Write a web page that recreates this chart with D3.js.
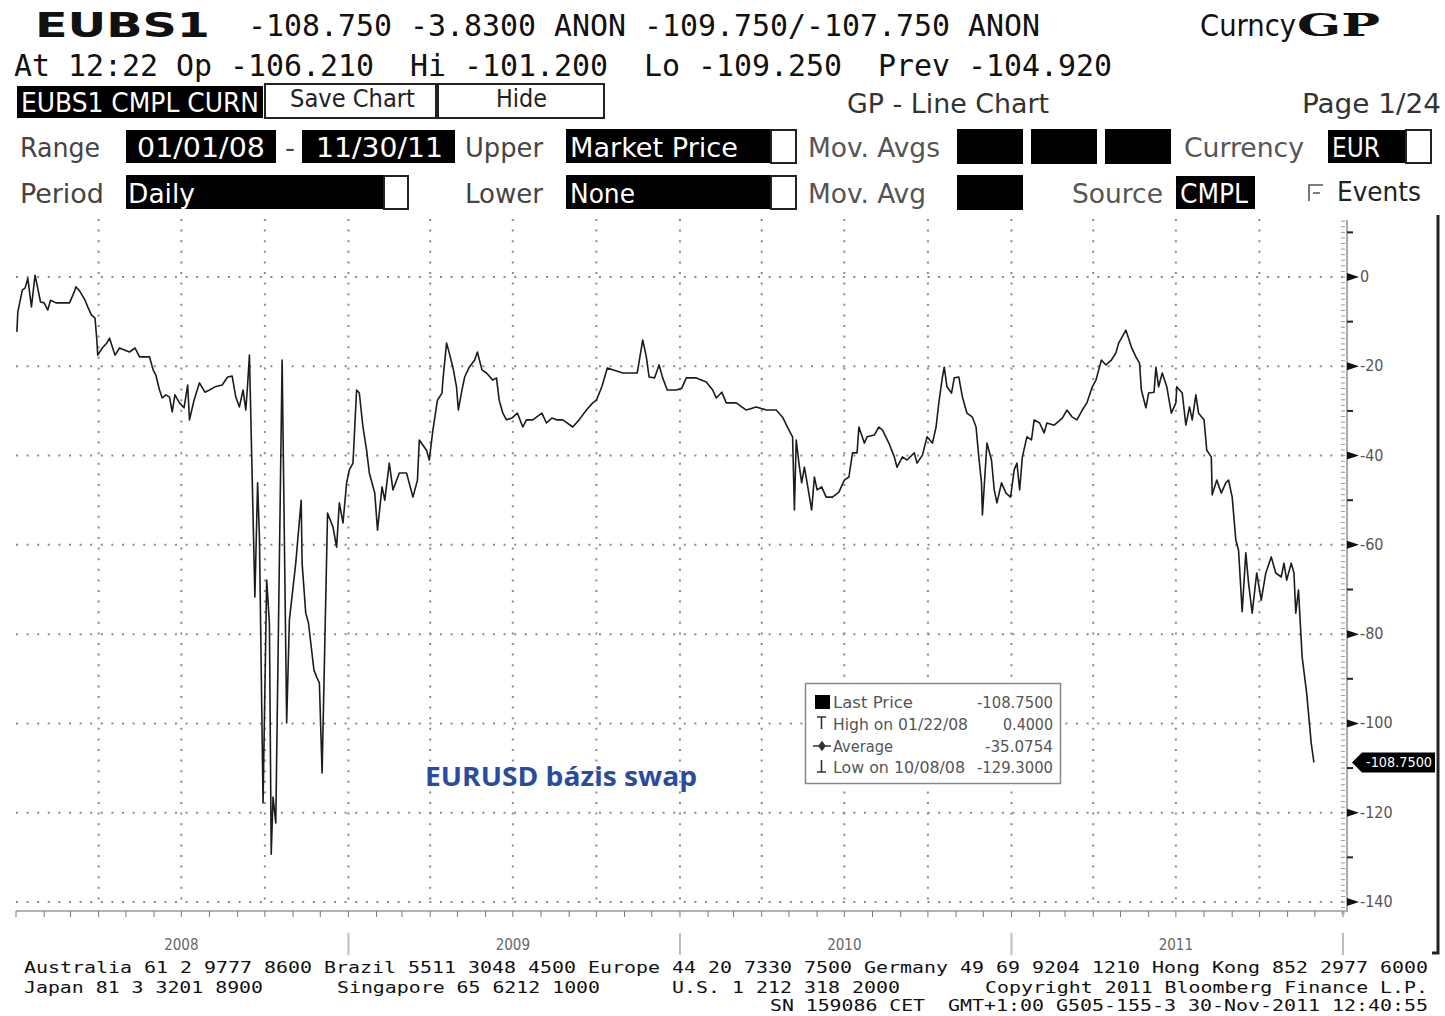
<!DOCTYPE html>
<html><head><meta charset="utf-8">
<script src="https://cdn.jsdelivr.net/npm/d3@7/dist/d3.min.js"></script>
<style>
html,body{margin:0;padding:0;background:#fff;}
svg{display:block;}
text{white-space:pre;}
</style></head><body>
<svg id="chart" width="1445" height="1016"></svg>
<script>
// EUBS1 – EURUSD Basis-Swap, Tageswerte 01/2008–11/2011
const dates = [
  "2008-01-02","2008-01-03","2008-01-08","2008-01-11","2008-01-14","2008-01-18","2008-01-22","2008-01-28","2008-02-01","2008-02-05",
  "2008-02-08","2008-02-14","2008-02-25","2008-02-29","2008-03-05","2008-03-07","2008-03-11","2008-03-17","2008-03-20","2008-03-24",
  "2008-03-28","2008-03-30","2008-03-31","2008-04-05","2008-04-10","2008-04-13","2008-04-19","2008-04-24","2008-04-30","2008-05-05",
  "2008-05-11","2008-05-16","2008-05-27","2008-05-31","2008-06-03","2008-06-07","2008-06-10","2008-06-14","2008-06-18","2008-06-21",
  "2008-06-24","2008-06-29","2008-07-04","2008-07-08","2008-07-10","2008-07-15","2008-07-21","2008-07-27","2008-08-01","2008-08-07",
  "2008-08-15","2008-08-21","2008-08-26","2008-08-30","2008-09-03","2008-09-07","2008-09-10","2008-09-12","2008-09-14","2008-09-20",
  "2008-09-23","2008-09-25","2008-09-29","2008-10-03","2008-10-06","2008-10-08","2008-10-10","2008-10-13","2008-10-20","2008-10-25",
  "2008-10-28","2008-11-04","2008-11-10","2008-11-11","2008-11-15","2008-11-18","2008-11-24","2008-11-27","2008-11-30","2008-12-03",
  "2008-12-09","2008-12-15","2008-12-19","2008-12-22","2008-12-26","2008-12-30",
  "2009-01-02","2009-01-06","2009-01-10","2009-01-13","2009-01-17","2009-01-21","2009-01-24","2009-01-30","2009-02-02","2009-02-07",
  "2009-02-10","2009-02-15","2009-02-19","2009-02-26","2009-03-06","2009-03-13","2009-03-18","2009-03-20","2009-03-28","2009-03-31",
  "2009-04-04","2009-04-09","2009-04-14","2009-04-15","2009-04-19","2009-04-22","2009-04-26","2009-04-30","2009-05-02","2009-05-06",
  "2009-05-09","2009-05-14","2009-05-20","2009-05-23","2009-05-28","2009-06-02","2009-06-09","2009-06-13","2009-06-16","2009-06-20",
  "2009-06-24","2009-06-30","2009-07-06","2009-07-12","2009-07-16","2009-07-23","2009-08-02","2009-08-07","2009-08-13","2009-08-18",
  "2009-08-25","2009-09-05","2009-09-12","2009-09-20","2009-09-27","2009-10-01","2009-10-07","2009-10-13","2009-10-19","2009-10-30",
  "2009-11-06","2009-11-15","2009-11-21","2009-11-25","2009-11-28","2009-12-04","2009-12-09","2009-12-13","2009-12-18","2009-12-28",
  "2010-01-03","2010-01-08","2010-01-19","2010-01-30","2010-02-06","2010-02-10","2010-02-16","2010-02-21","2010-03-04","2010-03-15",
  "2010-03-26","2010-04-06","2010-04-17","2010-04-24","2010-05-01","2010-05-05","2010-05-07","2010-05-09","2010-05-12","2010-05-15",
  "2010-05-18","2010-05-21","2010-05-26","2010-05-29","2010-06-01","2010-06-06","2010-06-11","2010-06-18","2010-06-25","2010-07-01",
  "2010-07-06","2010-07-10","2010-07-15","2010-07-17","2010-07-23","2010-07-26","2010-08-03","2010-08-08","2010-08-12","2010-08-19",
  "2010-08-25","2010-08-28","2010-09-03","2010-09-08","2010-09-16","2010-09-19","2010-09-25","2010-09-30","2010-10-06","2010-10-10",
  "2010-10-13","2010-10-17","2010-10-19","2010-10-22","2010-10-27","2010-10-30","2010-11-04","2010-11-08","2010-11-13","2010-11-19",
  "2010-11-23","2010-11-26","2010-11-29","2010-11-30","2010-12-05","2010-12-10","2010-12-13","2010-12-16","2010-12-21","2010-12-26",
  "2010-12-31",
  "2011-01-04","2011-01-07","2011-01-10","2011-01-13","2011-01-18","2011-01-23","2011-01-26","2011-02-01","2011-02-06","2011-02-09",
  "2011-02-17","2011-02-26","2011-03-03","2011-03-09","2011-03-14","2011-03-20","2011-03-25","2011-03-31","2011-04-04","2011-04-10",
  "2011-04-15","2011-04-21","2011-04-26","2011-04-29","2011-05-07","2011-05-13","2011-05-18","2011-05-22","2011-05-24","2011-05-29",
  "2011-06-01","2011-06-07","2011-06-09","2011-06-12","2011-06-16","2011-06-21","2011-06-26","2011-07-01","2011-07-02","2011-07-08",
  "2011-07-12","2011-07-16","2011-07-19","2011-07-23","2011-07-26","2011-08-01","2011-08-04","2011-08-09","2011-08-10","2011-08-15",
  "2011-08-20","2011-08-25","2011-08-28","2011-09-01","2011-09-05","2011-09-08","2011-09-12","2011-09-16","2011-09-19","2011-09-23",
  "2011-09-28","2011-10-03","2011-10-08","2011-10-14","2011-10-19","2011-10-25","2011-10-28","2011-10-31","2011-11-05","2011-11-08",
  "2011-11-10","2011-11-13","2011-11-17","2011-11-22","2011-11-27","2011-11-30"
];
const values = [
  -12.3,-7.8,-2.9,-2.5,-0.3,-6.7,0.4,-5.6,-5.8,-7.4,
  -5.2,-5.8,-5.8,-5.8,-3.4,-2.2,-3.1,-5.2,-6.7,-8.5,
  -9.2,-14.1,-17.5,-15.9,-14.8,-13.7,-17.5,-15.9,-16.4,-16.8,
  -15.9,-17.9,-17.9,-20.8,-22.0,-25.3,-27.1,-26.4,-26.9,-30.2,
  -26.4,-28.2,-29.3,-24.2,-32.0,-27.6,-23.7,-25.8,-25.3,-24.6,
  -24.2,-22.4,-22.2,-26.9,-29.1,-25.3,-29.8,-24.2,-17.5,-71.7,
  -46.1,-58.2,-117.8,-67.9,-77.5,-129.3,-116.5,-122.3,-18.6,-99.9,
  -76.8,-64.1,-50.0,-64.1,-75.3,-77.5,-88.0,-89.6,-90.9,-111.1,
  -52.9,-56.0,-60.5,-50.6,-55.1,-46.1,
  -43.2,-41.7,-25.3,-26.0,-33.6,-38.8,-43.9,-48.4,-56.7,-47.0,
  -50.0,-41.7,-47.7,-43.9,-43.9,-49.3,-45.5,-36.5,-38.8,-41.0,
  -34.3,-27.6,-26.0,-23.1,-14.8,-17.0,-20.2,-24.6,-29.8,-25.3,
  -22.4,-20.2,-18.6,-16.8,-20.8,-21.5,-23.1,-22.6,-27.6,-30.5,
  -32.0,-31.6,-30.5,-33.6,-32.0,-32.0,-30.5,-32.7,-31.6,-32.0,
  -32.0,-33.6,-32.0,-29.8,-28.2,-27.6,-24.6,-20.4,-20.8,-21.5,
  -21.5,-21.5,-14.1,-17.9,-22.4,-22.6,-19.7,-22.6,-25.3,-25.3,
  -24.9,-22.6,-22.6,-23.5,-25.3,-27.1,-25.8,-28.2,-28.2,-29.8,
  -29.1,-29.8,-29.8,-31.4,-34.3,-35.8,-52.2,-36.5,-41.7,-46.1,
  -42.6,-46.1,-52.2,-44.8,-47.7,-47.0,-49.3,-49.3,-48.2,-45.5,
  -44.8,-39.4,-39.4,-33.6,-37.2,-35.8,-35.4,-33.6,-34.3,-37.2,
  -40.3,-42.6,-40.3,-41.0,-39.4,-41.7,-39.9,-35.8,-37.2,-33.6,
  -28.2,-22.4,-20.2,-24.6,-26.0,-22.6,-22.4,-26.9,-30.5,-31.4,
  -33.6,-40.3,-46.1,-53.3,-37.2,-41.0,-47.7,-50.6,-46.1,-48.4,
  -49.3,
  -43.2,-41.7,-47.7,-40.3,-35.8,-36.5,-32.0,-32.7,-34.9,-32.7,
  -33.2,-31.6,-29.8,-31.4,-32.0,-29.8,-28.2,-24.6,-23.1,-18.6,
  -19.7,-18.6,-17.0,-14.8,-11.9,-15.7,-17.9,-19.3,-25.3,-29.3,
  -26.0,-25.8,-20.2,-24.6,-21.5,-24.6,-30.5,-28.2,-24.6,-26.0,
  -33.2,-29.1,-32.0,-26.4,-30.5,-32.0,-38.8,-40.3,-48.8,-45.5,
  -48.4,-46.1,-45.5,-49.3,-58.9,-61.2,-75.0,-61.8,-68.5,-75.3,
  -66.3,-72.4,-66.3,-62.7,-66.3,-67.2,-64.1,-67.9,-64.1,-66.3,
  -75.3,-70.1,-85.1,-93.2,-104.4,-108.75
];
const yTicks = [0,-20,-40,-60,-80,-100,-120,-140];
const years = [2008,2009,2010,2011];
const legendLabels = ["Last Price","High on 01/22/08","Average","Low on 10/08/08"];
const legendValues = ["-108.7500","0.4000","-35.0754","-129.3000"];
const lastPrice = -108.75;

const UI = "'DejaVu Sans Condensed','DejaVu Sans',sans-serif";
const MONO = "'DejaVu Sans Mono','Liberation Mono',monospace";

const svg = d3.select("#chart");
svg.append("rect").attr("width",1445).attr("height",1016).attr("fill","#fff");

function label(g, x, y, s, o={}){
  const t = g.append("text").attr("x",x).attr("y",y).text(s)
    .attr("font-family", o.ff||UI).attr("font-size", o.fs||26).attr("fill", o.fill||"#333");
  if(o.w) t.attr("textLength",o.w).attr("lengthAdjust","spacingAndGlyphs");
  if(o.anchor) t.attr("text-anchor",o.anchor);
  if(o.bold) t.attr("font-weight","bold");
  return t;
}
function box(g, x, y, w, h, fill, stroke){
  return g.append("rect").attr("x",x).attr("y",y).attr("width",w).attr("height",h)
    .attr("fill",fill).attr("stroke",stroke||"none").attr("stroke-width",stroke?2:0);
}

// Kopfzeilen
const hd = svg.append("g");
label(hd,35,37,"EUBS1",{ff:"'DejaVu Sans',sans-serif",fs:34,bold:true,fill:"#111",w:175});
label(hd,248,36,"-108.750 -3.8300 ANON -109.750/-107.750 ANON",{ff:MONO,fs:30,fill:"#111",w:792});
label(hd,1200,36,"Curncy",{fs:30,fill:"#111",w:96});
label(hd,1297,36,"GP",{ff:"'DejaVu Serif',serif",fs:31,bold:true,fill:"#111",w:83});
label(hd,14,76,"At 12:22 Op -106.210  Hi -101.200  Lo -109.250  Prev -104.920",{ff:MONO,fs:30,fill:"#111",w:1098});

box(hd,17,86,246,32,"#000");
label(hd,21,112,"EUBS1 CMPL CURN",{fs:26,fill:"#fff",w:238});
box(hd,265,84,171,34,"#fff","#222");
label(hd,290,107,"Save Chart",{fs:25,fill:"#222",w:125});
box(hd,438,84,166,34,"#fff","#222");
label(hd,496,107,"Hide",{fs:25,fill:"#222",w:51});
label(hd,847,113,"GP - Line Chart",{fs:26,fill:"#333",w:202});
label(hd,1302,113,"Page 1/24",{fs:26,fill:"#333",w:139});

// Zeile Range
label(hd,20,157,"Range",{fs:27,fill:"#444",w:80});
box(hd,126,130,150,33,"#000"); label(hd,137,157,"01/01/08",{fs:27,fill:"#fff",w:128});
label(hd,285,157,"-",{fs:27,fill:"#444",w:10});
box(hd,302,130,153,33,"#000"); label(hd,316,157,"11/30/11",{fs:27,fill:"#fff",w:127});
label(hd,465,157,"Upper",{fs:27,fill:"#444",w:78});
box(hd,566,129,204,34,"#000"); label(hd,570,157,"Market Price",{fs:27,fill:"#fff",w:168});
box(hd,771,130,25,33,"#fff","#222");
label(hd,808,157,"Mov. Avgs",{fs:27,fill:"#555",w:132});
[957,1031,1105].forEach(x=>box(hd,x,129,66,35,"#000"));
label(hd,1184,157,"Currency",{fs:27,fill:"#555",w:120});
box(hd,1328,130,77,33,"#000"); label(hd,1332,157,"EUR",{fs:27,fill:"#fff",w:48});
box(hd,1406,130,25,33,"#fff","#222");

// Zeile Period
label(hd,20,203,"Period",{fs:27,fill:"#444",w:84});
box(hd,126,175,257,34,"#000"); label(hd,128,203,"Daily",{fs:27,fill:"#fff",w:67});
box(hd,384,176,24,33,"#fff","#222");
label(hd,465,203,"Lower",{fs:27,fill:"#444",w:78});
box(hd,566,175,204,34,"#000"); label(hd,570,203,"None",{fs:27,fill:"#fff",w:65});
box(hd,771,176,25,33,"#fff","#222");
label(hd,808,203,"Mov. Avg",{fs:27,fill:"#555",w:118});
box(hd,957,175,66,35,"#000");
label(hd,1072,203,"Source",{fs:27,fill:"#555",w:91});
box(hd,1176,176,79,33,"#000"); label(hd,1180,203,"CMPL",{fs:27,fill:"#fff",w:68});
hd.append("path").attr("d","M1309,201V185H1323M1313,193H1320").attr("fill","none").attr("stroke","#555").attr("stroke-width",1.6);
label(hd,1337,201,"Events",{fs:27,fill:"#222",w:84});

// Skalen
const parse = d3.timeParse("%Y-%m-%d");
const data = dates.map((d,i)=>({date:parse(d), v:values[i]}));
const x = d3.scaleTime().domain([new Date(2008,0,1), new Date(2012,0,1)]).range([16,1343]);
const y = d3.scaleLinear().domain([0,-140]).range([277,902]);

// Raster
const grid = svg.append("g").attr("stroke","#8a8a8a").attr("stroke-width",2).attr("stroke-dasharray","2,8.6");
grid.selectAll("line.h").data(yTicks).join("line").attr("class","h")
  .attr("x1",16).attr("x2",1345).attr("y1",d=>y(d)).attr("y2",d=>y(d));
const quarters = d3.timeMonth.every(3).range(new Date(2008,3,1), new Date(2012,0,1));
grid.selectAll("line.v").data(quarters).join("line").attr("class","v")
  .attr("x1",d=>x(d)).attr("x2",d=>x(d)).attr("y1",219).attr("y2",908);

// x-Achse
const ax = svg.append("g");
ax.append("line").attr("x1",16).attr("x2",1347).attr("y1",911).attr("y2",911).attr("stroke","#9a9a9a").attr("stroke-width",1.6);
ax.selectAll("line.m").data(d3.timeMonth.range(new Date(2008,0,1), new Date(2012,0,2))).join("line").attr("class","m")
  .attr("x1",d=>x(d)).attr("x2",d=>x(d)).attr("y1",911).attr("y2",917).attr("stroke","#777").attr("stroke-width",1);
ax.selectAll("line.yr").data(years.map(v=>v+1)).join("line").attr("class","yr")
  .attr("x1",d=>x(new Date(d,0,1))).attr("x2",d=>x(new Date(d,0,1))).attr("y1",933).attr("y2",955)
  .attr("stroke","#bdbdbd").attr("stroke-width",2);
ax.selectAll("text").data(years).join("text")
  .attr("x",d=>x(new Date(d,6,1))).attr("y",950).attr("text-anchor","middle")
  .attr("font-family",UI).attr("font-size",15).attr("fill","#666").text(d=>d);

// y-Achse rechts
const ay = svg.append("g");
ay.append("line").attr("x1",1347).attr("x2",1347).attr("y1",220).attr("y2",912).attr("stroke","#aaa").attr("stroke-width",2);
ay.selectAll("line.mi").data(d3.range(12.5,-143,-1.25)).join("line").attr("class","mi")
  .attr("x1",1341).attr("x2",1345).attr("y1",d=>y(d)).attr("y2",d=>y(d)).attr("stroke","#999").attr("stroke-width",1);
ay.selectAll("line.md").data(d3.range(10,-141,-20)).join("line").attr("class","md")
  .attr("x1",1347).attr("x2",1353).attr("y1",d=>y(d)).attr("y2",d=>y(d)).attr("stroke","#222").attr("stroke-width",2);
ay.selectAll("path.tk").data(yTicks).join("path").attr("class","tk")
  .attr("d",d=>`M1347,${y(d)-4}L1359,${y(d)}L1347,${y(d)+4}Z`).attr("fill","#111");
ay.selectAll("text").data(yTicks).join("text")
  .attr("x",1360).attr("y",d=>y(d)+5).attr("font-family",UI).attr("font-size",16).attr("fill","#555")
  .text(d=>d===0?"0":"-"+Math.abs(d));

// Linie
svg.append("path").datum(data)
  .attr("d",d3.line().x(d=>x(d.date)).y(d=>y(d.v)))
  .attr("fill","none").attr("stroke","#1c1c1c").attr("stroke-width",1.6).attr("stroke-linejoin","round");

// Last-Price-Marke
const ly = y(lastPrice);
svg.append("path").attr("d",`M1352,${ly}L1362,${ly-10}H1435V${ly+10}H1362Z`).attr("fill","#000");
label(svg,1366,ly+5,"-108.7500",{fs:14,fill:"#fff",w:66});

// Legende
const lg = svg.append("g");
lg.append("rect").attr("x",805.5).attr("y",683.5).attr("width",255).attr("height",100)
  .attr("fill","#fff").attr("stroke","#888").attr("stroke-width",1.5);
const rowY = [708,730,752,773];
const labW = [80,135,60,132], valW = [76,50,68,76];
legendLabels.forEach((s,i)=>{
  label(lg,833,rowY[i],s,{fs:15,fill:"#555",w:labW[i]});
  label(lg,1053,rowY[i],legendValues[i],{fs:15,fill:"#555",w:valW[i],anchor:"end"});
});
lg.append("rect").attr("x",815).attr("y",695).attr("width",15).attr("height",14).attr("fill","#000");
lg.append("path").attr("d","M817,717H826M821.5,717V729").attr("stroke","#333").attr("stroke-width",1.6).attr("fill","none");
lg.append("path").attr("d","M813,746H831M822,742L825,746L822,750L819,746Z").attr("stroke","#333").attr("stroke-width",1.4).attr("fill","#333");
lg.append("path").attr("d","M817,772H826M821.5,760V772").attr("stroke","#333").attr("stroke-width",1.6).attr("fill","none");

// Beschriftung im Chart
label(svg,425,786,"EURUSD bázis swap",{ff:"'Open Sans',sans-serif",fs:27,bold:true,fill:"#2b4c9c",w:272});

// Rahmen rechts
svg.append("path").attr("d","M1438,215V953H1432").attr("fill","none").attr("stroke","#222").attr("stroke-width",3);

// Fusszeile
const ft = svg.append("g");
const fo = {ff:MONO,fs:16.5,fill:"#111"};
label(ft,24,973,"Australia 61 2 9777 8600 Brazil 5511 3048 4500 Europe 44 20 7330 7500 Germany 49 69 9204 1210 Hong Kong 852 2977 6000",{...fo,w:1404});
label(ft,24,993,"Japan 81 3 3201 8900",{...fo,w:239});
label(ft,337,993,"Singapore 65 6212 1000",{...fo,w:263});
label(ft,672,993,"U.S. 1 212 318 2000",{...fo,w:228});
label(ft,985,993,"Copyright 2011 Bloomberg Finance L.P.",{...fo,w:443});
label(ft,770,1011,"SN 159086 CET",{...fo,w:155});
label(ft,948,1011,"GMT+1:00 G505-155-3 30-Nov-2011 12:40:55",{...fo,w:480});
</script>
</body></html>
